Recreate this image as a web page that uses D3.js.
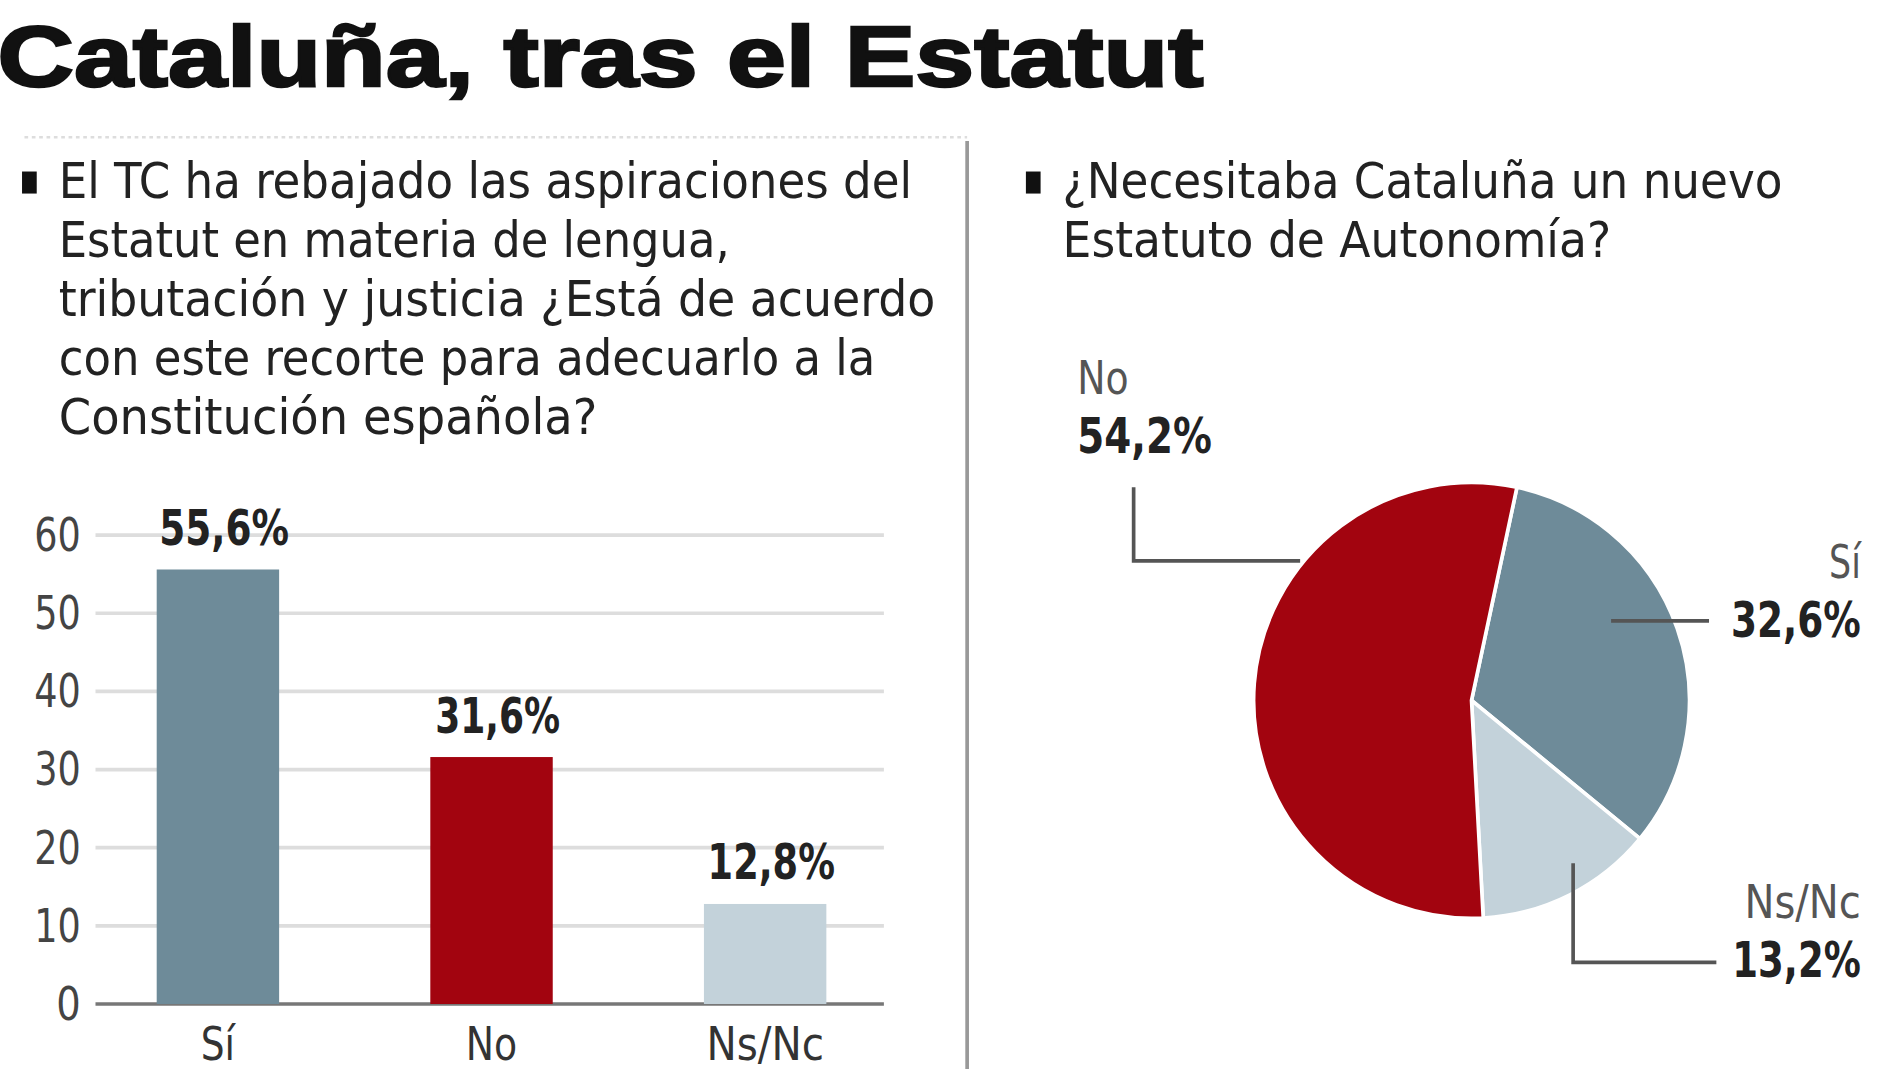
<!DOCTYPE html>
<html><head><meta charset="utf-8">
<script src="https://cdn.jsdelivr.net/npm/d3@7"></script>
<style>body{margin:0;background:#fff}svg{display:block}</style>
</head><body>
<script>
// data
let categories = ["Sí", "No", "Ns/Nc"];
let barValues = [55.6, 31.6, 12.8];
let barLabels = ["55,6%", "31,6%", "12,8%"];
let yTicks = [0, 10, 20, 30, 40, 50, 60];
let pieCategories = ["Sí", "Ns/Nc", "No"];
let pieValues = [32.6, 13.2, 54.2];
let pieLabels = ["32,6%", "13,2%", "54,2%"];
let colors = {"Sí": "#6e8b99", "No": "#a2040f", "Ns/Nc": "#c3d2da"};

const narrow = "'DejaVu Sans Condensed','Liberation Sans Narrow',sans-serif";

let svg = d3.select("body").append("svg")
  .attr("width", 1900).attr("height", 1069)
  .attr("viewBox", "0 0 1552 873");

// condensed-looking text: squeeze to an approximate width
function ctext(g, xp, yp, str, size, width, opts = {}) {
  let t = g.append("text").attr("x", xp).attr("y", yp)
    .attr("font-family", narrow).attr("font-size", size)
    .attr("fill", opts.fill || "#222").attr("text-anchor", opts.anchor || "start")
    .attr("font-weight", opts.bold ? "bold" : "normal").text(str);
  if (width) t.attr("textLength", width).attr("lengthAdjust", "spacingAndGlyphs");
  return t;
}

svg.append("text").attr("x", -2).attr("y", 70)
  .attr("font-family", "'Liberation Sans',Arial,sans-serif").attr("font-weight", 900)
  .attr("font-size", 70).attr("textLength", 985).attr("lengthAdjust", "spacingAndGlyphs")
  .attr("fill", "#111").attr("stroke", "#111").attr("stroke-width", 2)
  .text("Cataluña, tras el Estatut");

// frame
svg.append("line").attr("x1", 20).attr("x2", 790).attr("y1", 112).attr("y2", 112)
  .attr("stroke", "#ddd").attr("stroke-width", 2).attr("stroke-dasharray", "3,3");
svg.append("line").attr("x1", 790).attr("x2", 790).attr("y1", 115).attr("y2", 873)
  .attr("stroke", "#999").attr("stroke-width", 3);

function question(x, y, lines, widths) {
  svg.append("rect").attr("x", x).attr("y", y - 22).attr("width", 12).attr("height", 18).attr("fill", "#111");
  lines.forEach((l, i) => ctext(svg, x + 30, y + i * 48, l, 40, widths[i], {fill: "#222"}));
}
question(18, 162, ["El TC ha rebajado las aspiraciones del", "Estatut en materia de lengua,",
  "tributación y justicia ¿Está de acuerdo", "con este recorte para adecuarlo a la", "Constitución española?"],
  [697, 548, 716, 667, 440]);
question(838, 162, ["¿Necesitaba Cataluña un nuevo", "Estatuto de Autonomía?"], [588, 448]);

// bar chart
let xc = d3.scalePoint().domain(categories).range([178, 625]);
let bw = 100;
let y = d3.scaleLinear().domain([0, 60]).range([820, 437]);

let grid = svg.append("g");
yTicks.forEach(t => {
  grid.append("line").attr("x1", 78).attr("x2", 722).attr("y1", y(t)).attr("y2", y(t))
    .attr("stroke", t === 0 ? "#777" : "#ddd").attr("stroke-width", 3);
  ctext(grid, 66, y(t) + 13, t, 38, t === 0 ? 20 : 38, {anchor: "end", fill: "#444"});
});

svg.selectAll(".bar").data(categories).enter().append("rect")
  .attr("x", d => xc(d) - bw / 2).attr("width", bw)
  .attr("y", (d, i) => y(barValues[i])).attr("height", (d, i) => y(0) - y(barValues[i]))
  .attr("fill", d => colors[d]);

let barLabW = [106, 102, 104];
categories.forEach((d, i) => {
  ctext(svg, xc(d) + 5, y(barValues[i]) - 20, barLabels[i], 40, barLabW[i], {anchor: "middle", bold: true});
});
let xLabW = [28, 42, 96];
categories.forEach((d, i) => ctext(svg, xc(d), 866, d, 38, xLabW[i], {anchor: "middle", fill: "#333"}));

// pie chart
let cx = 1202, cy = 572, r = 178;
let pie = d3.pie().sort(null).startAngle(0.21).endAngle(0.21 + 2 * Math.PI);
let arcs = pie(pieValues);
let arc = d3.arc().innerRadius(0).outerRadius(r);
let pg = svg.append("g").attr("transform", `translate(${cx},${cy})`);
pg.selectAll("path").data(arcs).enter().append("path")
  .attr("d", arc).attr("fill", (d, i) => colors[pieCategories[i]])
  .attr("stroke", "#fff").attr("stroke-width", 3);

// leader lines
let lead = svg.append("g").attr("stroke", "#555").attr("stroke-width", 3).attr("fill", "none");
lead.append("polyline").attr("points", "926,398 926,458 1062,458");
lead.append("polyline").attr("points", "1316,507 1396,507");
lead.append("polyline").attr("points", "1285,705 1285,786 1402,786");

function pieLabel(xp, yp, name, val, anchor, w1, w2) {
  ctext(svg, xp, yp, name, 38, w1, {anchor: anchor, fill: "#555"});
  ctext(svg, xp, yp + 48, val, 40, w2, {anchor: anchor, bold: true});
}
pieLabel(880, 322, pieCategories[2], pieLabels[2], "start", 42, 110);
pieLabel(1520, 472, pieCategories[0], pieLabels[0], "end", 26, 106);
pieLabel(1520, 750, pieCategories[1], pieLabels[1], "end", 95, 105);
</script>
</body></html>
